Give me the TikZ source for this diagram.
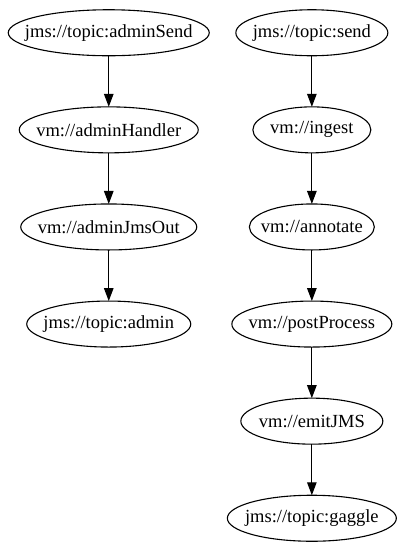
\documentclass[tikz,border=0pt]{standalone}
\usepackage{fontspec}
\setmainfont{Liberation Serif}
\usepackage{tikz}
\usetikzlibrary{matrix, shapes, arrows.meta, positioning}
\newcommand{\gvlabel}[1]{\makebox[0pt]{#1}}
\tikzstyle{flowtable}=[matrix of nodes, inner sep=0pt, row sep=50pt, column sep=17pt,
nodes={ellipse, draw, line width=1.1pt, minimum height=46pt, inner sep=0pt, outer sep=0pt,
anchor=center, font=\fontsize{18.5}{20}\selectfont}]
\tikzstyle{flow}=[line width=1.2pt, -{Triangle[length=13pt, width=9.5pt]}]

\begin{document}
\begin{tikzpicture}
\useasboundingbox (0pt,0pt) rectangle (402pt,-543pt);
\matrix[flowtable, anchor=north west] (m) at (7.5pt,-9pt) {
  |[minimum width=201pt]| \gvlabel{jms://topic:adminSend} & |[minimum width=152pt]| \gvlabel{jms://topic:send}\\
  |[minimum width=179pt]| \gvlabel{vm://adminHandler} & |[minimum width=118pt]| \gvlabel{vm://ingest}\\
  |[minimum width=176pt]| \gvlabel{vm://adminJmsOut} & |[minimum width=125pt]| \gvlabel{vm://annotate}\\
  |[minimum width=164pt]| \gvlabel{jms://topic:admin} & |[minimum width=160pt]| \gvlabel{vm://postProcess}\\
  & |[minimum width=142pt]| \gvlabel{vm://emitJMS}\\
  & |[minimum width=169pt]| \gvlabel{jms://topic:gaggle}\\
};

\foreach \r [evaluate=\r as \s using int(\r+1)] in {1,2,3}
  \draw[flow] (m-\r-1) -- (m-\s-1);
\foreach \r [evaluate=\r as \s using int(\r+1)] in {1,...,5}
  \draw[flow] (m-\r-2) -- (m-\s-2);
\end{tikzpicture}
\end{document}
